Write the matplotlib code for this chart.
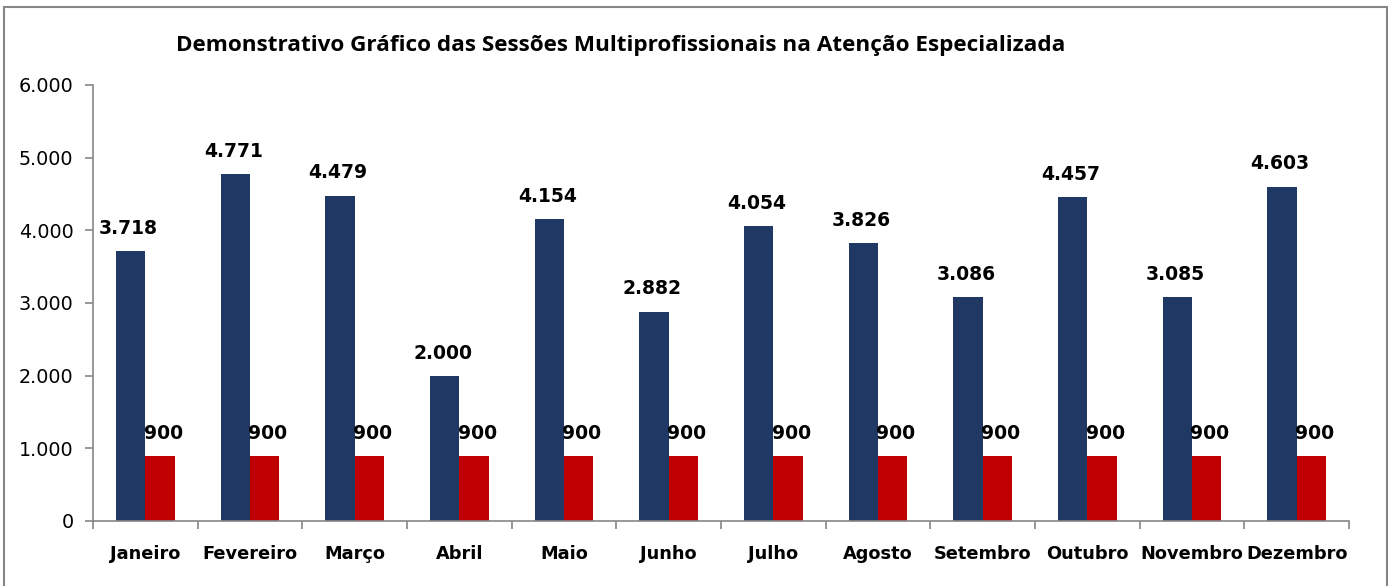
import numpy as np
import matplotlib
matplotlib.use('Agg')
import matplotlib.pyplot as plt
from matplotlib.patches import Rectangle

meses = ['Janeiro', 'Fevereiro', 'Março', 'Abril', 'Maio', 'Junho', 'Julho',
         'Agosto', 'Setembro', 'Outubro', 'Novembro', 'Dezembro']
realizado = [3718, 4771, 4479, 2000, 4154, 2882, 4054, 3826, 3086, 4457, 3085, 4603]
meta = [900] * 12

navy = '#1F3864'
red = '#C00000'
gray = '#868686'

def fmt(v):
    return '{:,}'.format(v).replace(',', '.')

fig = plt.figure(figsize=(13.92, 5.86), dpi=100)
ax = fig.add_axes([93/1392, 1 - 521/586, (1349-93)/1392, (521-85)/586])

# moldura
fig.patches.append(Rectangle((4/1392, -0.05), (1387-4)/1392, 1.05 - 7/586, transform=fig.transFigure,
                             fill=False, edgecolor=gray, lw=1.5))

x = np.arange(len(meses))
w = 0.28
ax.bar(x - w/2, realizado, w, color=navy)
ax.bar(x + w/2, meta, w, color=red)

for xi, v in zip(x, realizado):
    ax.text(xi - w/2 - 0.02, v + 180, fmt(v), ha='center', va='bottom',
            fontsize=13.5, fontweight='bold', family='DejaVu Sans')
for xi, v in zip(x, meta):
    ax.text(xi + w/2 + 0.03, v + 180, fmt(v), ha='center', va='bottom',
            fontsize=13.5, fontweight='bold', family='DejaVu Sans')

ax.set_xlim(-0.5, len(meses) - 0.5)
ax.set_ylim(0, 6000)
ax.set_yticks(np.arange(0, 6001, 1000))
ax.set_yticklabels([fmt(v) for v in range(0, 6001, 1000)], fontsize=13.8)
ax.set_xticks(x)
ax.set_xticklabels(meses, fontsize=12.8, fontweight='bold')
ax.set_xticks(np.arange(-0.5, len(meses)), minor=True)
ax.tick_params(axis='x', which='major', length=0, pad=17)
ax.tick_params(axis='x', which='minor', length=6, color=gray, width=1.2)
ax.tick_params(axis='y', length=6, color=gray, width=1.2, pad=8)

for s in ['top', 'right']:
    ax.spines[s].set_visible(False)
for s in ['left', 'bottom']:
    ax.spines[s].set_color(gray)
    ax.spines[s].set_linewidth(1.2)

fig.text(621/1392, 1 - 45/586, 'Demonstrativo Gráfico das Sessões Multiprofissionais na Atenção Especializada',
         ha='center', va='center', fontsize=16.2, fontweight='bold', family='Open Sans')

fig.savefig('out.png', dpi=100)
